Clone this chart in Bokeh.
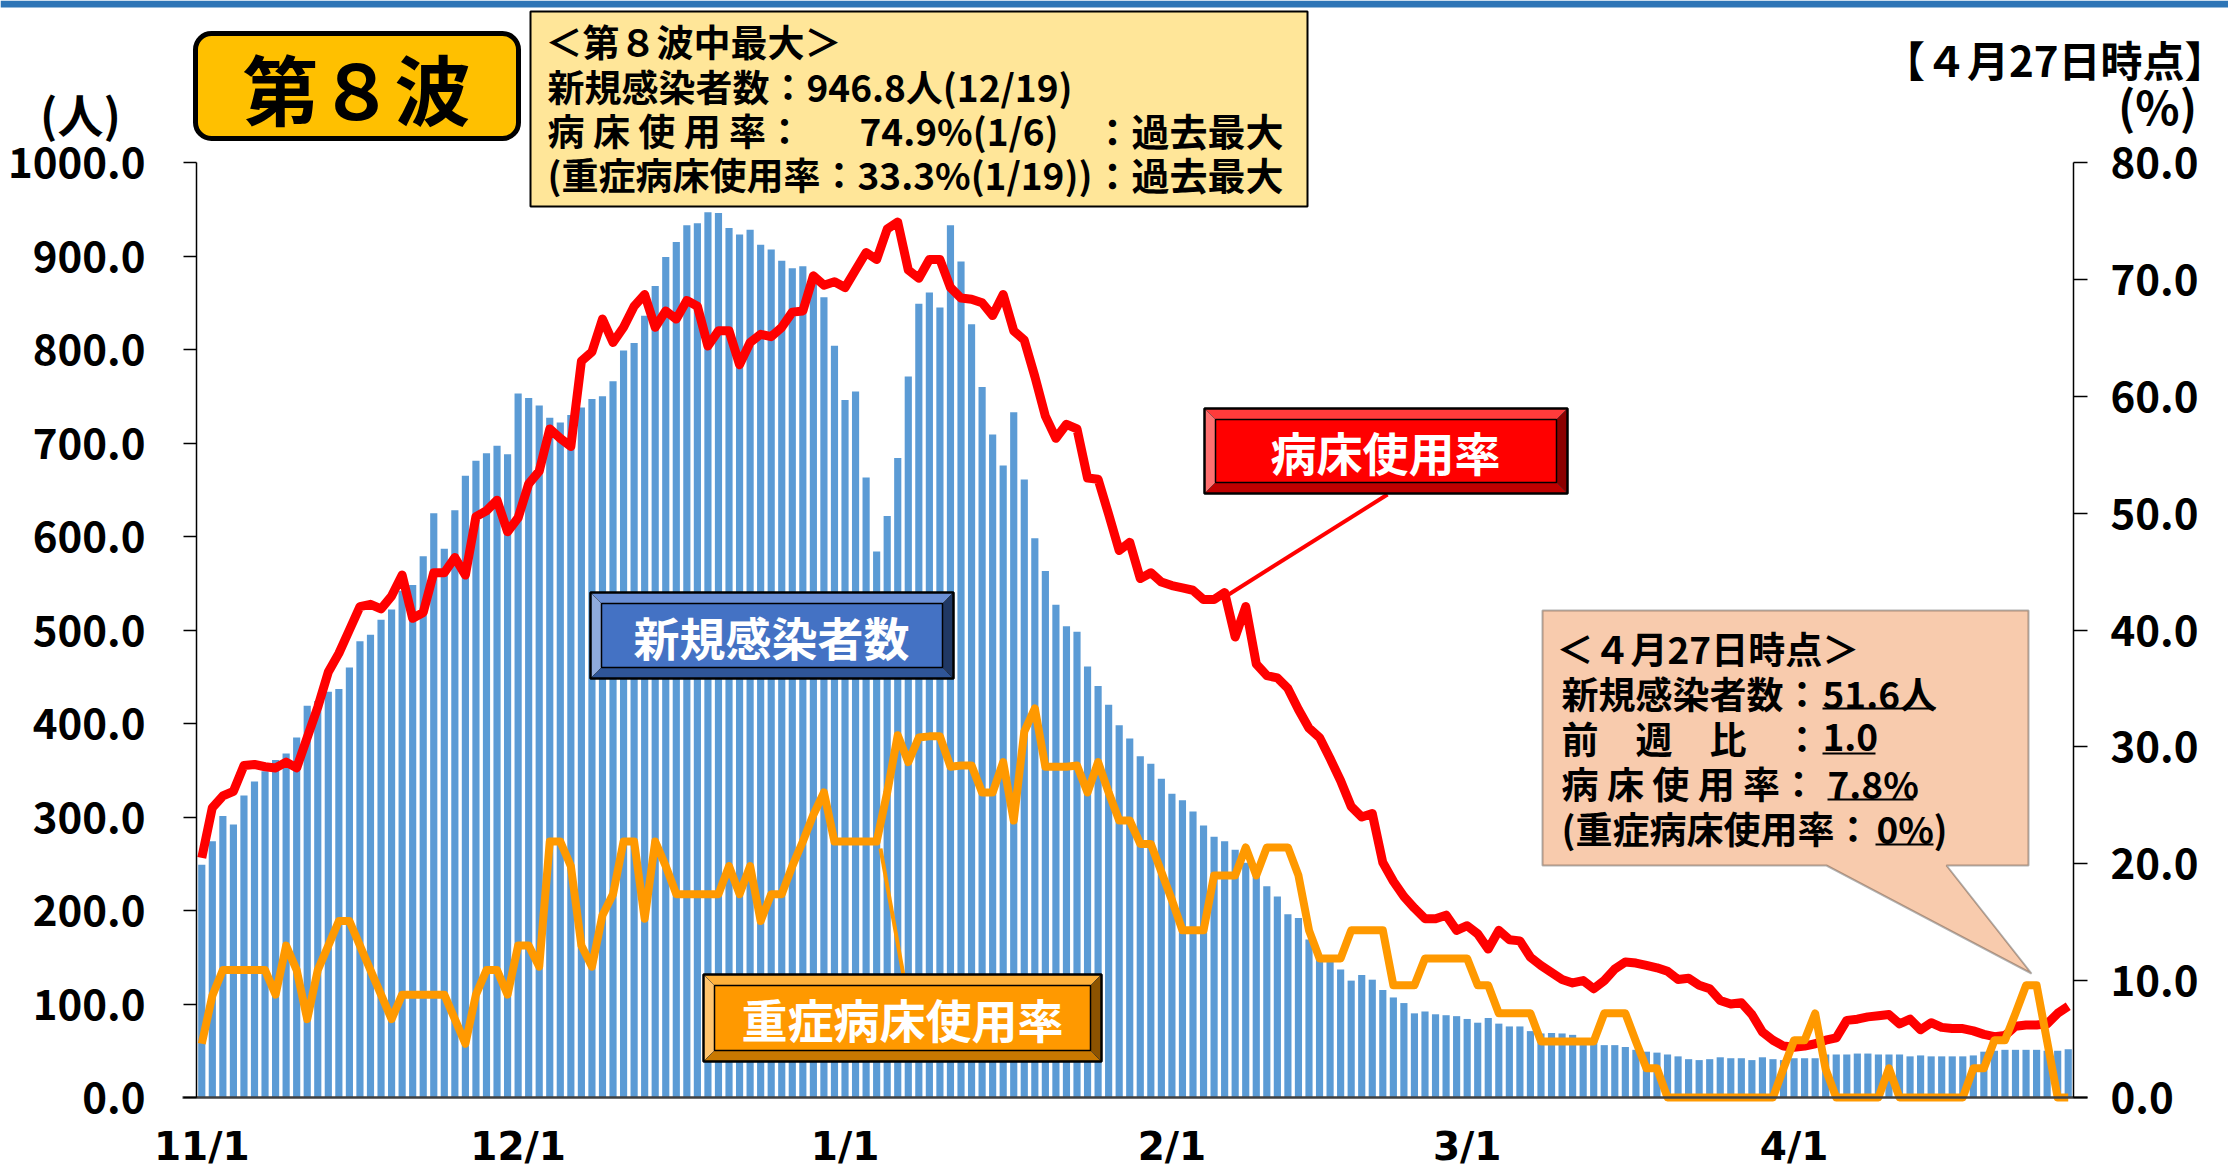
import pandas as pd
from bokeh.plotting import figure
from bokeh.models import (Range1d, LinearAxis, FixedTicker, PrintfTickFormatter, Label,
                          BoxAnnotation, PolyAnnotation, Arrow)
from bokeh.embed import file_html
from bokeh.resources import INLINE

# ---------------- data ----------------
dates = pd.date_range("2022-11-01", "2023-04-27", freq="D")
day = list(range(1, len(dates) + 1))

# 新規感染者数 (人)
cases = [
    249, 274, 301, 292, 323, 338, 349, 361, 368, 385,
    419, 424, 434, 437, 460, 488, 495, 511, 522, 542,
    548, 579, 625, 587, 628, 665, 681, 689, 697, 688,
    753, 748, 740, 727, 722, 730, 738, 747, 750, 766,
    799, 807, 836, 868, 899, 915, 933, 935, 946.8, 946,
    930, 923, 928, 912, 907, 895, 887, 889, 876, 856,
    804, 746, 755, 663, 584, 622, 684, 771, 849, 861,
    845, 933, 894, 827, 760, 709, 676, 733, 661, 598,
    563, 527, 504, 498, 461, 440, 420, 398, 384, 365,
    357, 341, 325, 318, 306, 291, 279, 274, 265, 251,
    238, 226, 215, 196, 192, 169, 149, 146, 137, 125,
    131, 126, 115, 107, 101, 90, 92, 89, 88, 87,
    84, 80, 85, 79, 76, 76, 71, 68.5, 69, 68.5,
    67, 62, 61, 56, 56, 54, 51, 49, 48, 46,
    44, 41, 40, 41, 43, 42, 42, 40, 43, 41,
    40, 42, 42, 42, 46, 46, 46, 47, 47, 46,
    46, 46, 44, 45, 44, 44, 44, 44, 45, 49,
    50, 51, 51, 51, 51, 50, 50, 51.6,
]

# 病床使用率 (%)
bed_rate = [
    20.5, 24.8, 25.8, 26.2, 28.4, 28.5, 28.3, 28.2, 28.7, 28.2,
    30.8, 33.4, 36.4, 38.0, 40.0, 42.0, 42.2, 41.8, 42.9, 44.7,
    41.0, 41.5, 44.9, 44.9, 46.2, 44.7, 49.7, 50.2, 51.1, 48.4,
    49.6, 52.5, 53.6, 57.2, 56.4, 55.7, 63.0, 63.8, 66.6, 64.6,
    65.9, 67.7, 68.7, 65.9, 67.3, 66.6, 68.2, 67.7, 64.3, 65.6,
    65.6, 62.7, 64.6, 65.3, 65.1, 65.9, 67.2, 67.3, 70.3, 69.5,
    69.8, 69.3, 70.8, 72.3, 71.7, 74.3, 74.9, 70.8, 70.1, 71.7,
    71.7, 69.3, 68.4, 68.3, 68.0, 66.9, 68.7, 65.6, 64.8, 61.7,
    58.3, 56.4, 57.6, 57.2, 53.0, 52.9, 49.9, 46.8, 47.5, 44.4,
    44.9, 44.1, 43.8, 43.6, 43.4, 42.6, 42.6, 43.2, 39.4, 42.0,
    37.1, 36.1, 35.9, 35.0, 33.2, 31.6, 30.8, 29.0, 27.1, 24.9,
    24.0, 24.3, 20.1, 18.5, 17.2, 16.2, 15.3, 15.3, 15.6, 14.3,
    14.7, 14.0, 12.7, 14.3, 13.5, 13.4, 12.0, 11.3, 10.7, 10.1,
    9.8, 10.0, 9.3, 10.0, 11.0, 11.6, 11.5, 11.3, 11.1, 10.8,
    10.1, 10.2, 9.6, 9.3, 8.3, 8.0, 8.1, 7.1, 5.6, 4.9,
    4.4, 4.3, 4.4, 4.6, 4.9, 5.1, 6.6, 6.7, 6.9, 7.0,
    7.1, 6.3, 6.7, 5.8, 6.4, 6.0, 5.9, 5.9, 5.7, 5.4,
    5.2, 5.3, 6.1, 6.2, 6.2, 6.3, 7.2, 7.8,
]

# 重症病床使用率 (%)
severe_rate = [
    4.6, 8.7, 10.9, 10.9, 10.9, 10.9, 10.9, 8.8, 13.0, 10.9,
    6.7, 10.9, 13.0, 15.1, 15.1, 13.0, 10.9, 8.8, 6.7, 8.8,
    8.8, 8.8, 8.8, 8.8, 6.7, 4.6, 8.8, 10.9, 10.9, 8.8,
    13.0, 13.0, 11.2, 21.9, 21.9, 19.8, 13.0, 11.2, 15.6, 17.4,
    21.9, 21.9, 15.3, 21.9, 19.8, 17.4, 17.4, 17.4, 17.4, 17.4,
    19.8, 17.4, 19.8, 15.1, 17.4, 17.4, 19.8, 21.9, 24.2, 26.1,
    21.9, 21.9, 21.9, 21.9, 21.9, 26.1, 31.0, 28.7, 30.8, 30.9,
    30.9, 28.3, 28.4, 28.4, 26.1, 26.1, 28.7, 23.7, 31.3, 33.3,
    28.3, 28.3, 28.3, 28.4, 26.1, 28.7, 26.1, 23.7, 23.7, 21.7,
    21.7, 19.3, 16.9, 14.3, 14.3, 14.3, 19.0, 19.0, 19.0, 21.4,
    19.0, 21.4, 21.4, 21.4, 19.0, 14.3, 11.9, 11.9, 11.9, 14.3,
    14.3, 14.3, 14.3, 9.6, 9.6, 9.6, 11.9, 11.9, 11.9, 11.9,
    11.9, 9.6, 9.6, 7.2, 7.2, 7.2, 7.2, 4.8, 4.8, 4.8,
    4.8, 4.8, 4.8, 7.2, 7.2, 7.2, 4.8, 2.5, 2.5, 0,
    0, 0, 0, 0, 0, 0, 0, 0, 0, 0,
    2.5, 4.9, 4.9, 7.2, 2.4, 0, 0, 0, 0, 0,
    2.5, 0, 0, 0, 0, 0, 0, 0, 2.5, 2.5,
    4.9, 4.9, 7.2, 9.6, 9.6, 4.8, 0, 0,
]

tick_dates = ["2022-11-01", "2022-12-01", "2023-01-01", "2023-02-01", "2023-03-01", "2023-04-01"]
tick_labels = ["11/1", "12/1", "1/1", "2/1", "3/1", "4/1"]
left_ticks = [0, 100, 200, 300, 400, 500, 600, 700, 800, 900, 1000]
right_ticks = [0, 10, 20, 30, 40, 50, 60, 70, 80]
LEFT_MAX, RIGHT_MAX = 1000, 80

# ---------------- layout (page pixels) ----------------
W, H = 2228, 1171
FL, FR, FT, FB = 196, 2073, 162, 1097      # plot area on the page
NDAY = len(day)
FONT = "Noto Sans CJK JP"

def xd(px):
    return 0.5 + (px - FL) * NDAY / (FR - FL)

def yd(py):
    return (FB - py) * LEFT_MAX / (FB - FT)

ratio = RIGHT_MAX / LEFT_MAX
p = figure(width=W, height=H, output_backend="svg", toolbar_location=None,
           x_range=Range1d(xd(0), xd(W)), y_range=Range1d(yd(H), yd(0)),
           min_border=0, min_border_left=0, min_border_right=0,
           min_border_top=0, min_border_bottom=0)
p.title.visible = False
p.extra_y_ranges = {"pct": Range1d(yd(H) * ratio, yd(0) * ratio)}
p.outline_line_color = None
p.grid.visible = False
p.background_fill_color = "white"
p.border_fill_color = "white"

tick_pos = [int((pd.Timestamp(d) - dates[0]).days) + 1 for d in tick_dates]

def style_axis(ax, size, font=FONT):
    ax.major_label_text_font = font
    ax.major_label_text_font_style = "bold"
    ax.major_label_text_font_size = f"{size}px"
    ax.major_label_text_color = "black"
    ax.minor_tick_in = 0
    ax.minor_tick_out = 0

xa = p.xaxis[0]
xa.fixed_location = 0
xa.bounds = (xd(182), xd(2087))
xa.ticker = FixedTicker(ticks=tick_pos)
xa.major_label_overrides = {t: l for t, l in zip(tick_pos, tick_labels)}
style_axis(xa, 39, font="DejaVu Sans")
xa.major_tick_out = 0
xa.major_tick_in = 0
xa.axis_line_color = "#404040"
xa.axis_line_width = 2.5
xa.major_label_standoff = 26

ya = p.yaxis[0]
ya.fixed_location = 0.5
ya.bounds = (0, LEFT_MAX)
ya.ticker = FixedTicker(ticks=left_ticks)
ya.formatter = PrintfTickFormatter(format="%.1f")
style_axis(ya, 42)
ya.major_tick_out = 13
ya.major_tick_in = 0
ya.axis_line_color = "black"
ya.axis_line_width = 1.5
ya.major_tick_line_width = 1.5
ya.major_label_standoff = 38

ra = LinearAxis(y_range_name="pct", ticker=FixedTicker(ticks=right_ticks),
                formatter=PrintfTickFormatter(format="%.1f"),
                fixed_location=NDAY + 0.5, bounds=(0, RIGHT_MAX))
style_axis(ra, 42)
ra.major_tick_out = 14
ra.major_tick_in = 0
ra.axis_line_color = "black"
ra.axis_line_width = 1.5
ra.major_tick_line_width = 1.5
ra.major_label_standoff = 23
p.add_layout(ra, "right")

# ---------------- data marks ----------------
p.vbar(x=day, top=cases, width=0.68, fill_color="#5B9BD5", line_color=None)
p.line(day, bed_rate, y_range_name="pct", line_color="#FF0000", line_width=9, line_join="round")
p.line(day, severe_rate, y_range_name="pct", line_color="#FF9900", line_width=8, line_join="round")

# ---------------- decorations ----------------
def box(L, T, R, B, fill, line="black", lw=2, radius=0):
    kw = dict(left=xd(L), right=xd(R), top=yd(T), bottom=yd(B),
              fill_color=fill if fill else "white", fill_alpha=1 if fill else 0,
              line_color=line if line else "black", line_width=lw, line_alpha=1 if line else 0)
    if radius:
        kw["border_radius"] = radius
    p.add_layout(BoxAnnotation(**kw))

def poly(xs, ys, fill, line="black", lw=1.5):
    p.add_layout(PolyAnnotation(xs=[xd(x) for x in xs], ys=[yd(y) for y in ys],
                                fill_color=fill, fill_alpha=1, line_color=line, line_width=lw))

def text(px, py, s, size, color="black", align="left", bold=True):
    p.add_layout(Label(x=xd(px), y=yd(py), text=s, text_font=FONT,
                       text_font_style="bold" if bold else "normal",
                       text_font_size=f"{size}px", text_color=color,
                       text_align=align, text_baseline="middle"))

def seg(x0, y0, x1, y1, color, lw):
    p.add_layout(Arrow(x_start=xd(x0), y_start=yd(y0), x_end=xd(x1), y_end=yd(y1),
                       end=None, line_color=color, line_width=lw))

def bevel(L, T, R, B, face, c_top, c_left, c_bottom, c_right, b=11):
    poly([L, R, R - b, L + b], [T, T, T + b, T + b], c_top, lw=1)
    poly([L, L + b, L + b, L], [T, T + b, B - b, B], c_left, lw=1)
    poly([L, L + b, R - b, R], [B, B - b, B - b, B], c_bottom, lw=1)
    poly([R, R, R - b, R - b], [T, B, B - b, T + b], c_right, lw=1)
    box(L + b, T + b, R - b, B - b, face, line="black", lw=1.5)
    box(L, T, R, B, None, line="black", lw=2.5)

# top blue band
box(0, 0, W, 7, "#2E75B6", line=None)

# title box
box(195, 33, 518, 138, "#FFC000", line="black", lw=5, radius=16)
text(356, 86, "第８波", 76, align="center")

# top info box
box(530, 11, 1307, 206, "#FFE699", line="black", lw=2)
text(545, 40, "＜第８波中最大＞", 37)
text(547, 85, "新規感染者数：946.8人(12/19)", 37)
text(547, 129, "病 床 使 用 率：", 37)
text(859, 129, "74.9%(1/6)", 37)
text(1093, 129, "：過去最大", 38)
text(547, 173, "(重症病床使用率：33.3%(1/19))", 37)
text(1093, 173, "：過去最大", 38)

# axis unit labels
text(80, 112, "(人)", 46, align="center")
text(2157, 104, "(%)", 46, align="center")
text(2226, 58, "【４月27日時点】", 42, align="right")

# series label buttons
seg(1387, 494, 1225, 596, "#FF0000", 4)
bevel(1204, 408, 1567, 493, "#FF0000", "#FF3B3B", "#FF7070", "#C00000", "#8B0000")
text(1385, 450, "病床使用率", 46, color="white", align="center")

bevel(590, 592, 953, 678, "#4472C4", "#6A8FD6", "#8FAADC", "#2F5597", "#203864")
text(771, 635, "新規感染者数", 46, color="white", align="center")

seg(880, 848, 903, 975, "#FF9900", 4)
bevel(703, 974, 1101, 1061, "#FF9900", "#FFB13B", "#FFC46E", "#C87800", "#8C5300")
text(902, 1017, "重症病床使用率", 46, color="white", align="center")

# callout (4/27)
poly([1542, 2028, 2028, 1946, 2031, 1826, 1542], [610, 610, 865, 865, 973, 865, 865],
     "#F8CBAD", line="black", lw=2)
text(1556, 647, "＜４月27日時点＞", 37)
text(1561, 692, "新規感染者数：", 37)
text(1822, 692, "51.6人", 37)
seg(1822, 708, 1935, 708, "black", 2)
text(1561, 737, "前　週　比　：", 37)
text(1822, 737, "1.0", 37)
seg(1822, 753, 1875, 753, "black", 2)
text(1561, 782, "病 床 使 用 率：", 37)
text(1827, 782, "7.8%", 37)
seg(1827, 799, 1913, 799, "black", 2)
text(1561, 827, "(重症病床使用率：", 37)
text(1876, 827, "0%", 37)
text(1933, 827, ")", 37)
seg(1875, 844, 1933, 844, "black", 2)

open("out.html", "w").write(file_html(p, INLINE))
